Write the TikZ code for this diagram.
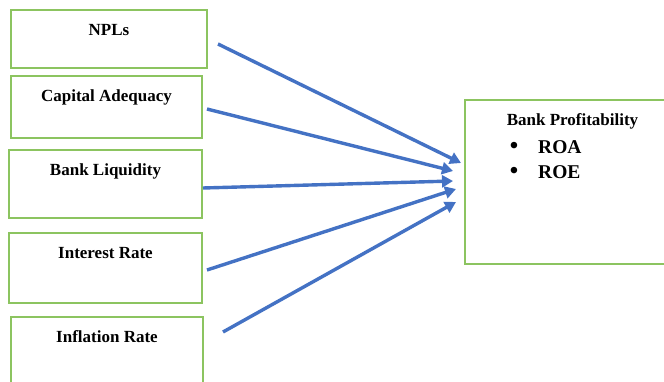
\documentclass[tikz,border=0pt]{standalone}
\usepackage{fontspec}
\setmainfont{Liberation Serif}
\usetikzlibrary{arrows.meta}
\definecolor{boxgreen}{RGB}{140,196,96}
\definecolor{arrowblue}{RGB}{68,114,196}
\tikzset{
	factor/.style={draw=boxgreen, line width=1.7pt, fill=white, inner sep=0pt},
	heading/.style={anchor=base, inner sep=0pt, font=\bfseries\fontsize{17}{20}\selectfont},
	item/.style={anchor=base west, inner sep=0pt, font=\bfseries\fontsize{19.5}{22}\selectfont},
	dot/.style={anchor=base, inner sep=0pt, font=\bfseries\fontsize{24}{26}\selectfont},
	link/.style={draw=arrowblue, line width=3.4pt, -{Triangle[length=11pt,width=12pt]}}
}
\begin{document}
\begin{tikzpicture}[x=1pt, y=-1pt]
		\useasboundingbox (0,0) rectangle (664,382);
		\clip (0,0) rectangle (664,382);
		\fill[white] (0,0) rectangle (664,382);
		\foreach \name/\cx/\cy/\w/\h/\txt in {npl/109/39/196/58/NPLs,
			cap/106.5/107/191/62/Capital Adequacy,
			liq/105.5/184/193/68/Bank Liquidity,
			rate/105.5/268/193/70/Interest Rate,
			infl/107/358.5/192/83/Inflation Rate}
		{
			\node[factor, minimum width=\w pt, minimum height=\h pt] (\name) at (\cx,\cy) {};
			\node[heading] (\name-txt) at ([yshift=-26pt]\name.north) {\txt};
		}
		\node[factor, minimum width=215pt, minimum height=164pt] (prof) at (572.5,182) {};
		\node[heading] (prof-txt) at ([yshift=-26pt]prof.north) {Bank Profitability};
		\node[item] (roa) at (538,154) {ROA};
		\node[item] (roe) at (538,179) {ROE};
		\node[dot] (roa-dot) at (514,154) {\textbullet};
		\node[dot] (roe-dot) at (514,179) {\textbullet};
		\foreach \i/\sx/\sy/\tx/\ty in {1/218/44/461/163, 2/207/109/453/171,
			3/203/188/453/181, 4/207/270/456/189, 5/223/332/456/202}
		{
			\coordinate (s\i) at (\sx,\sy);
			\coordinate (t\i) at (\tx,\ty);
			\draw[link] (s\i) -- (t\i);
		}
\end{tikzpicture}
\end{document}
